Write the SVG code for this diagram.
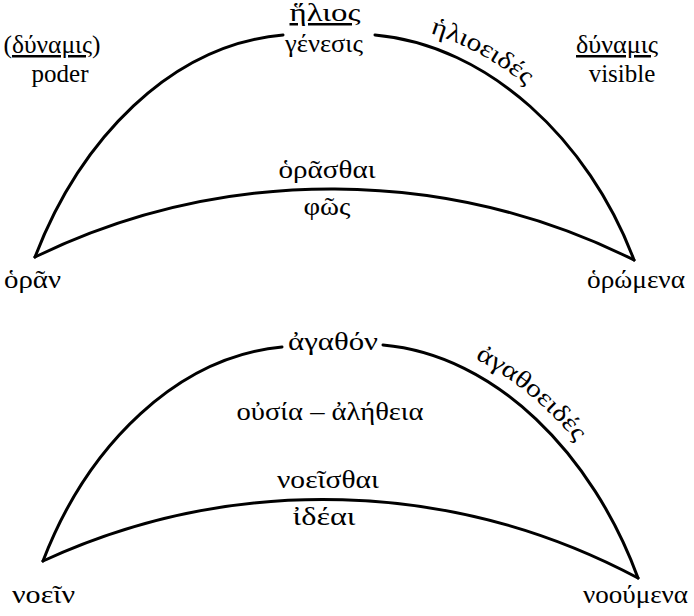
<svg xmlns="http://www.w3.org/2000/svg" width="694" height="616" viewBox="0 0 694 616">
<style>
  .arc { fill: none; stroke: #000; stroke-width: 3; stroke-linecap: round; stroke-linejoin: miter; }
  .t { font-family: 'Liberation Serif', serif; font-size: 25px; fill: #000; }
  .c { text-anchor: middle; }
  .u { text-decoration: underline; }
</style>
<defs>
  <path id="hp" d="M383,24 C496,34 598,130 643,251"/>
  <path id="ap" d="M391,334 C504,344 602,444 647,567"/>
</defs>
<rect width="694" height="616" fill="#fff"/>

<g id="sun-figure">
  <path class="arc" d="M35,257 C80,140 170,45 283,35"/>
  <path class="arc" d="M375,35 C488,45 589,140 634,260"/>
  <path class="arc" d="M35,257 A680,680 0 0 1 634,260"/>
  <text class="t c" x="325" y="21" textLength="71" lengthAdjust="spacingAndGlyphs"><tspan class="u">ἥλιος</tspan></text>
  <text class="t c" x="324" y="52" textLength="78" lengthAdjust="spacingAndGlyphs">γένεσις</text>
  <text class="t"><textPath href="#hp" startOffset="48" textLength="110" lengthAdjust="spacingAndGlyphs">ἡλιοειδές</textPath></text>
  <text class="t c" x="52" y="53" textLength="97" lengthAdjust="spacingAndGlyphs">(<tspan class="u">δύναμις</tspan>)</text>
  <text class="t c" x="60" y="82">poder</text>
  <text class="t c" x="617" y="53" textLength="82" lengthAdjust="spacingAndGlyphs"><tspan class="u">δύναμις</tspan></text>
  <text class="t c" x="622" y="82">visible</text>
  <text class="t c" x="327" y="178" textLength="97" lengthAdjust="spacingAndGlyphs">ὁρᾶσθαι</text>
  <text class="t c" x="327" y="215" textLength="47" lengthAdjust="spacingAndGlyphs">φῶς</text>
  <text class="t" x="4" y="288" textLength="57" lengthAdjust="spacingAndGlyphs">ὁρᾶν</text>
  <text class="t" x="587" y="288" textLength="98" lengthAdjust="spacingAndGlyphs">ὁρώμενα</text>
</g>

<g id="good-figure">
  <path class="arc" d="M43,561 C88,444 178,357 282,347"/>
  <path class="arc" d="M383,345 C496,355 593,455 638,578"/>
  <path class="arc" d="M43,561 A670,670 0 0 1 638,578"/>
  <text class="t c" x="333" y="350" textLength="90" lengthAdjust="spacingAndGlyphs">ἀγαθόν</text>
  <text class="t"><textPath href="#ap" startOffset="88" textLength="132" lengthAdjust="spacingAndGlyphs">ἀγαθοειδές</textPath></text>
  <text class="t c" x="330" y="420" textLength="187" lengthAdjust="spacingAndGlyphs">οὐσία – ἀλήθεια</text>
  <text class="t c" x="328" y="488" textLength="102" lengthAdjust="spacingAndGlyphs">νοεῖσθαι</text>
  <text class="t c" x="324" y="525" textLength="63" lengthAdjust="spacingAndGlyphs">ἰδέαι</text>
  <text class="t" x="12" y="603" textLength="63" lengthAdjust="spacingAndGlyphs">νοεῖν</text>
  <text class="t" x="583" y="603" textLength="105" lengthAdjust="spacingAndGlyphs">νοούμενα</text>
</g>
</svg>
